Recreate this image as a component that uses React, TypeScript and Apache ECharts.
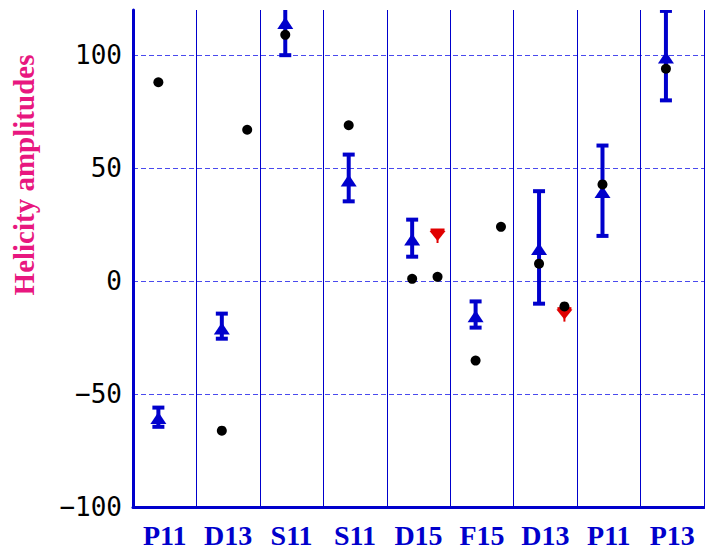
import React, { useEffect, useRef } from "react";
import * as echarts from "echarts";

const categories = ["P11", "D13", "S11", "S11", "D15", "F15", "D13", "P11", "P13"];
const yTicks = [-100, -50, 0, 50, 100];

// blue triangles with error bars
const triX = [0.4, 1.4, 2.4, 3.4, 4.4, 5.4, 6.4, 7.4, 8.4];
const triY = [-60.6, -21, 114.2, 44.5, 18.4, -15.6, 14.2, 39.4, 99];
const errLow = [-64.5, -25.5, 100, 35.3, 10.8, -20.6, -10, 20, 80];
const errHigh = [-56, -14.4, 130, 56, 27.2, -9, 39.8, 60, 119.6];

// red markers
const redX = [4.8, 6.8];
const redY = [20.4, -14.4];

// black dots
const dotX = [0.4, 1.4, 1.8, 2.4, 3.4, 4.4, 4.8, 5.4, 5.8, 6.4, 6.8, 7.4, 8.4];
const dotY = [88, -66.2, 67, 109, 69, 1, 1.9, -35.2, 24, 7.7, -11.2, 42.8, 94];

const BLUE = "#0000cc";
const RED = "#e00000";
const PINK = "#e8177f";

export default function App() {
  const ref = useRef<HTMLDivElement>(null);
  useEffect(() => {
    if (!ref.current) return;
    const chart = echarts.init(ref.current, undefined, { renderer: "svg" });
    const errData = triX.map((x, i) => [x, errLow[i], errHigh[i]]);
    const triData = triX.map((x, i) => [x, triY[i]]);
    const redData = redX.map((x, i) => [x, redY[i]]);
    const dotData = dotX.map((x, i) => [x, dotY[i]]);

    chart.setOption({
      animation: false,
      backgroundColor: "#ffffff",
      grid: { left: 133, right: 1, top: 10, bottom: 45, containLabel: false },
      xAxis: [
        {
          type: "value",
          min: 0,
          max: 9,
          interval: 1,
          position: "bottom",
          axisLine: { show: true, onZero: false, lineStyle: { color: BLUE, width: 3 } },
          axisTick: { show: false },
          axisLabel: { show: false },
          splitLine: { show: true, showMinLine: false, lineStyle: { color: BLUE, width: 1, type: "solid" } },
        },
        {
          type: "category",
          data: categories,
          position: "bottom",
          boundaryGap: true,
          axisLine: { show: false },
          axisTick: { show: false },
          splitLine: { show: false },
          axisLabel: {
            show: true,
            interval: 0,
            margin: 14,
            color: BLUE,
            fontFamily: "'Liberation Serif', 'Times New Roman', serif",
            fontWeight: "bold",
            fontSize: 28,
          },
        },
      ],
      yAxis: {
        type: "value",
        min: -100,
        max: 120,
        interval: 50,
        axisLine: { show: true, onZero: false, lineStyle: { color: BLUE, width: 3 } },
        axisTick: { show: false },
        axisLabel: {
          show: true,
          margin: 11,
          color: "#000000",
          fontFamily: "'DejaVu Sans Mono', monospace",
          fontSize: 26,
          formatter: (v: number) =>
            yTicks.indexOf(v) >= 0 ? String(v).replace("-", "\u2212") : "",
        },
        splitLine: {
          show: true,
          showMinLine: false,
          showMaxLine: false,
          lineStyle: { color: "#4a4aee", width: 1, type: [5, 3] },
        },
      },
      graphic: [
        {
          type: "text",
          x: 23.5,
          y: 175,
          rotation: Math.PI / 2,
          style: {
            text: "Helicity amplitudes",
            fill: PINK,
            font: "bold 29px 'Liberation Serif', 'Times New Roman', serif",
            textAlign: "center",
            textVerticalAlign: "middle",
            align: "center",
            verticalAlign: "middle",
          },
        },
      ],
      series: [
        {
          type: "custom",
          xAxisIndex: 0,
          yAxisIndex: 0,
          clip: true,
          data: errData,
          renderItem: (params: any, api: any) => {
            const x = api.value(0);
            const lo = api.coord([x, api.value(1)]);
            const hi = api.coord([x, api.value(2)]);
            const st = { stroke: BLUE, lineWidth: 4 };
            return {
              type: "group",
              children: [
                { type: "line", shape: { x1: lo[0], y1: lo[1], x2: hi[0], y2: hi[1] }, style: st },
                { type: "line", shape: { x1: lo[0] - 6, y1: lo[1], x2: lo[0] + 6, y2: lo[1] }, style: st },
                { type: "line", shape: { x1: hi[0] - 6, y1: hi[1], x2: hi[0] + 6, y2: hi[1] }, style: st },
              ],
            };
          },
          z: 2,
        },
        {
          type: "scatter",
          xAxisIndex: 0,
          yAxisIndex: 0,
          data: triData,
          symbol: "triangle",
          symbolSize: [16, 12],
          itemStyle: { color: BLUE, opacity: 1 },
          z: 3,
        },
        {
          type: "custom",
          xAxisIndex: 0,
          yAxisIndex: 0,
          clip: true,
          data: redData,
          renderItem: (params: any, api: any) => {
            const p = api.coord([api.value(0), api.value(1)]);
            return {
              type: "group",
              children: [
                {
                  type: "polygon",
                  shape: { points: [[p[0] - 8, p[1] - 4], [p[0] + 8, p[1] - 4], [p[0], p[1] + 6]] },
                  style: { fill: RED },
                },
                { type: "line", shape: { x1: p[0] - 7, y1: p[1] - 5, x2: p[0] + 7, y2: p[1] - 5 }, style: { stroke: RED, lineWidth: 3 } },
                { type: "line", shape: { x1: p[0], y1: p[1] - 4, x2: p[0], y2: p[1] + 8 }, style: { stroke: RED, lineWidth: 2 } },
              ],
            };
          },
          z: 4,
        },
        {
          type: "scatter",
          xAxisIndex: 0,
          yAxisIndex: 0,
          data: dotData,
          symbol: "circle",
          symbolSize: 10,
          itemStyle: { color: "#000000", opacity: 1 },
          z: 5,
        },
      ],
    });
    return () => chart.dispose();
  }, []);
  return (
    <div
      ref={ref}
      style={{ position: "absolute", left: 0, top: 0, width: 705, height: 552 }}
    />
  );
}
